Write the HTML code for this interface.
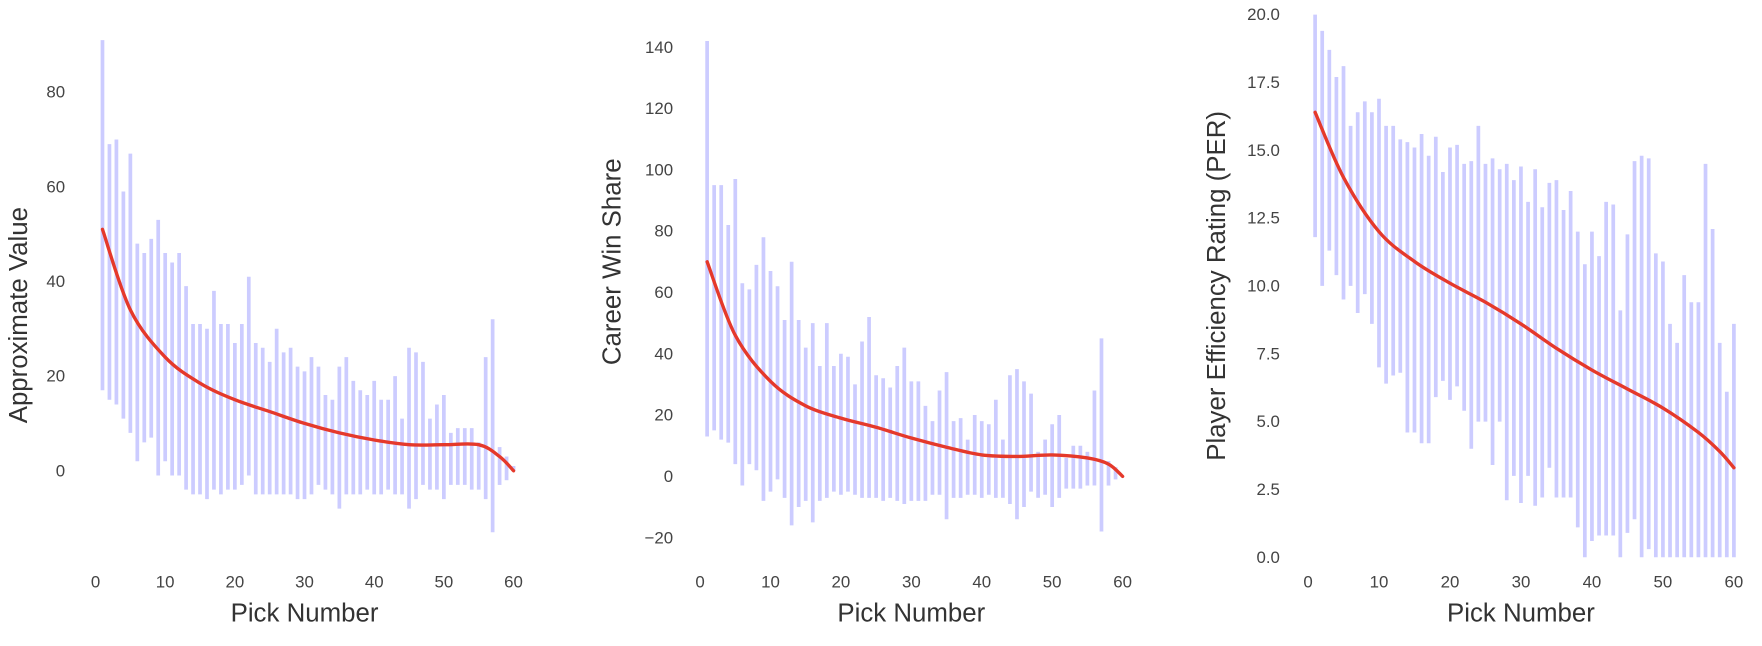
<!DOCTYPE html>
<html><head><meta charset="utf-8"><style>
body{margin:0;background:#fff;}
svg{display:block;font-family:"Liberation Sans",sans-serif;}
.tk{font-size:15px;fill:#444;}
.al{font-size:23px;fill:#333;}
</style></head><body>
<svg id="chart" width="1762" height="646" viewBox="0 0 1568 575" preserveAspectRatio="none" xmlns="http://www.w3.org/2000/svg"></svg>
<script>
const picks = Array.from({length:60},(_,i)=>i+1);
const avTop=[91,69,70,59,67,48,46,49,53,46,44,46,39,31,31,30,38,31,31,27,31,41,27,26,23,30,25,26,22,21,24,22,16,15,22,24,19,17,16,19,15,15,20,11,26,25,23,11,14,16,8,9,9,9,6,24,32,5,3,1];
const avBot=[17,15,14,11,8,2,6,7,-1,2,-1,-1,-4,-5,-5,-6,-4,-5,-4,-4,-3,-1,-5,-5,-5,-5,-5,-5,-6,-6,-5,-3,-4,-5,-8,-5,-5,-5,-4,-5,-5,-4,-5,-5,-8,-6,-3,-4,-4,-6,-3,-3,-3,-4,-4,-6,-13,-3,-2,0];
const fitX=[1,5,10,15,20,25,30,35,40,45,50,55,58,60];
const avFit=[51,34,24,18.5,15,12.5,10,8,6.5,5.5,5.5,5.5,3,0];
const wsTop=[142,95,95,82,97,63,61,69,78,67,62,51,70,51,42,50,36,50,36,40,39,30,44,52,33,32,29,36,42,31,31,23,18,28,34,18,19,12,20,18,17,25,12,33,35,31,27,8,12,17,20,6,10,10,8,28,45,5,3,0];
const wsBot=[13,15,12,11,4,-3,4,2,-8,-5,-1,-7,-16,-10,-8,-15,-8,-7,-5,-6,-5,-6,-7,-7,-7,-8,-7,-8,-9,-8,-8,-8,-6,-6,-14,-7,-7,-6,-6,-7,-6,-7,-7,-9,-14,-10,-5,-7,-6,-10,-7,-4,-4,-4,-3,-3,-18,-3,-1,0];
const wsFit=[70,46,31,23,19,16,12.5,9.5,7,6.5,7,6,4,0];
const perTop=[20,19.4,18.7,17.7,18.1,15.9,16.4,16.8,16.4,16.9,15.9,15.9,15.4,15.3,15.1,15.6,14.8,15.5,14.2,15.1,15.2,14.5,14.6,15.9,14.5,14.7,14.3,14.5,13.9,14.4,13.1,14.3,12.9,13.8,13.9,12.8,13.5,12.0,10.8,12.0,11.1,13.1,13.0,9.1,11.9,14.6,14.8,14.7,11.2,10.9,8.6,7.9,10.4,9.4,9.4,14.5,12.1,7.9,6.1,8.6];
const perBot=[11.8,10.0,11.3,10.4,9.5,10.0,9.0,9.7,8.6,7.0,6.4,6.7,6.8,4.6,4.6,4.2,4.2,5.9,6.5,5.8,6.3,5.4,4.0,5.0,5.0,3.4,5.0,2.1,3.0,2.0,3.0,1.9,2.2,3.3,2.2,2.2,2.2,1.1,0,0.6,0.8,0.8,0.8,0,0.9,1.4,0,0.3,0,0,0,0,0,0,0,0,0,0,0,0];
const perFit=[16.4,14.0,12.0,10.9,10.1,9.4,8.6,7.7,6.9,6.2,5.5,4.6,3.9,3.3];
const xTicks=[0,10,20,30,40,50,60];
const avTicks=[0,20,40,60,80];
const wsTicks=[-20,0,20,40,60,80,100,120,140];
const perTicks=[0,2.5,5,7.5,10,12.5,15,17.5,20];

const svg=document.getElementById('chart');
const NS='http://www.w3.org/2000/svg';
function mk(tag,attrs,parent){const e=document.createElementNS(NS,tag);for(const k in attrs)e.setAttribute(k,attrs[k]);parent.appendChild(e);return e;}

const panels=[
 {name:'approximate-value',x0:85,x60:457,v0:0,y0:419,v1:80,y1:82,tickRight:58,ylabX:24,ylab:'Approximate Value',top:avTop,bot:avBot,fit:avFit,ticks:avTicks,fmt:v=>String(v)},
 {name:'career-win-share',x0:623,x60:999,v0:0,y0:424,v1:140,y1:42,tickRight:599,ylabX:552,ylab:'Career Win Share',top:wsTop,bot:wsBot,fit:wsFit,ticks:wsTicks,fmt:v=>v<0?'\u2212'+(-v):String(v)},
 {name:'player-efficiency-rating',x0:1164,x60:1543,v0:0,y0:496,v1:20,y1:13,tickRight:1139,ylabX:1090,ylab:'Player Efficiency Rating (PER)',top:perTop,bot:perBot,fit:perFit,ticks:perTicks,fmt:v=>v.toFixed(1)}
];

panels.forEach(p=>{
  const g=mk('g',{},svg);
  
  
  const sx=v=>p.x0+(p.x60-p.x0)*v/60;
  const sy=v=>p.y0+(p.y1-p.y0)*(v-p.v0)/(p.v1-p.v0);
  picks.forEach((k,i)=>{
    const l=mk('line',{x1:sx(k),x2:sx(k),y1:sy(p.top[i]),y2:sy(p.bot[i]),stroke:'#ccccff','stroke-width':3.3},g);
    
    
  });
  const pts=fitX.map((x,i)=>[sx(x),sy(p.fit[i])]);
  let d='M'+pts[0][0]+','+pts[0][1];
  for(let i=0;i<pts.length-1;i++){
    const p0=pts[Math.max(0,i-1)],p1=pts[i],p2=pts[i+1],p3=pts[Math.min(pts.length-1,i+2)];
    const c1=[p1[0]+(p2[0]-p0[0])/6,p1[1]+(p2[1]-p0[1])/6];
    const c2=[p2[0]-(p3[0]-p1[0])/6,p2[1]-(p3[1]-p1[1])/6];
    d+=` C${c1[0]},${c1[1]} ${c2[0]},${c2[1]} ${p2[0]},${p2[1]}`;
  }
  const path=mk('path',{d:d,fill:'none',stroke:'#e5392b','stroke-width':3,'stroke-linecap':'round'},g);
  
  
  xTicks.forEach(t=>{
    const tx=mk('text',{x:sx(t),y:523,'text-anchor':'middle',class:'tk'},g);
    tx.textContent=t;
    
    
  });
  p.ticks.forEach(t=>{
    const tx=mk('text',{x:p.tickRight,y:sy(t)+5,'text-anchor':'end',class:'tk'},g);
    tx.textContent=p.fmt(t);
    
    
  });
  const xl=mk('text',{x:(p.x0+p.x60)/2,y:553,'text-anchor':'middle',class:'al'},g);
  xl.textContent='Pick Number';
  
  
  const yl=mk('text',{x:0,y:0,'text-anchor':'middle',class:'al',transform:`translate(${p.ylabX},${(p.y0+p.y1)/2+(p.name==='approximate-value'?30:0)}) rotate(-90)`},g);
  yl.textContent=p.ylab;
  
  
});
</script>
</body></html>
